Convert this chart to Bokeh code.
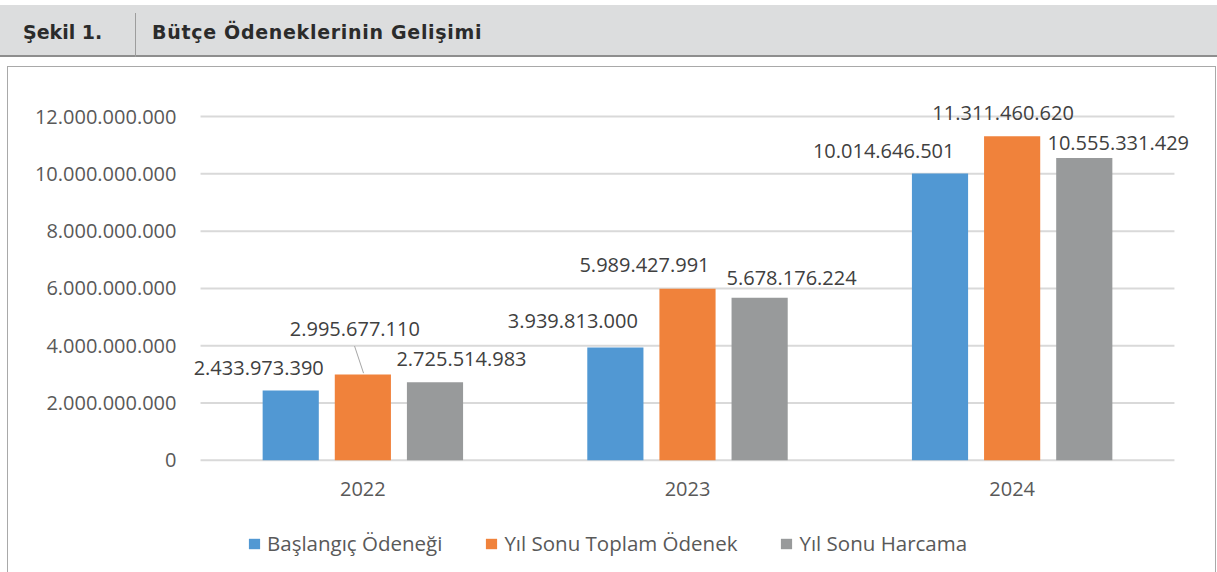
from bokeh.plotting import figure
from bokeh.models import (ColumnDataSource, FactorRange, Range1d, FixedTicker,
                          Legend, LegendItem, Div, LabelSet)
from bokeh.layouts import column
from bokeh.transform import dodge
from bokeh.core.properties import value
from bokeh.embed import file_html
from bokeh.resources import INLINE

# ---------------- data ----------------
years = ["2022", "2023", "2024"]
baslangic_odenegi = [2433973390, 3939813000, 10014646501]
yil_sonu_toplam_odenek = [2995677110, 5989427991, 11311460620]
yil_sonu_harcama = [2725514983, 5678176224, 10555331429]
series_names = ["Başlangıç Ödeneği", "Yıl Sonu Toplam Ödenek", "Yıl Sonu Harcama"]
y_ticks = [0, 2000000000, 4000000000, 6000000000, 8000000000, 10000000000, 12000000000]
y_tick_labels = ["0", "2.000.000.000", "4.000.000.000", "6.000.000.000",
                 "8.000.000.000", "10.000.000.000", "12.000.000.000"]
header_label = "Şekil 1."
header_title = "Bütçe Ödeneklerinin Gelişimi"

# ---------------- style / layout ----------------
colors = ["#5198d3", "#f0823b", "#989a9b"]
bar_offsets = [-0.2222, 0.0, 0.2222]
bar_width = 0.173
# data-label offsets in screen px (dx right, dy down) relative to each bar's top-centre
label_dx = [[-32, -42.5, -56.3], [-8, -43, -9], [26.5, 32, 34]]
label_dy = [[-23, -26.3, -22.3], [-45, -23.7, -23.4], [-23.4, -19.4, -15]]

CAT_PX = 324.0            # pixels per category
SIDE_PAD_PX = 20.0        # frame extends this far beyond the outer categories
PX_ABOVE_ZERO = 390.0     # frame pixels above the zero line
PX_BELOW_ZERO = 113.0     # frame pixels below the zero line (axis labels + legend)
PX_PER_12BN = 343.0
Y_PER_PX = 12000000000 / PX_PER_12BN
FRAME_W = int(3 * CAT_PX + 2 * SIDE_PAD_PX)
FRAME_H = int(PX_ABOVE_ZERO + PX_BELOW_ZERO)


def fmt(v):
    return f"{v:,}".replace(",", ".")


series = [baslangic_odenegi, yil_sonu_toplam_odenek, yil_sonu_harcama]

p = figure(
    x_range=FactorRange(factors=years, range_padding=2 * SIDE_PAD_PX / (3 * CAT_PX),
                        range_padding_units="percent"),
    y_range=Range1d(-PX_BELOW_ZERO * Y_PER_PX, PX_ABOVE_ZERO * Y_PER_PX),
    frame_width=FRAME_W, frame_height=FRAME_H,
    min_border_left=172, min_border_right=23, min_border_top=2, min_border_bottom=0,
    output_backend="svg", toolbar_location=None,
    background_fill_color="white", border_fill_color="white",
)
p.outline_line_color = None
p.margin = (0, 0, 0, 7)
p.styles = {"border-left": "1px solid #a9a9a9", "border-top": "1px solid #a9a9a9",
            "border-right": "1px solid #a9a9a9"}

# horizontal grid lines spanning the category area only
grid_src = ColumnDataSource(dict(y=y_ticks, first=[years[0]] * len(y_ticks),
                                 last=[years[-1]] * len(y_ticks)))
p.segment(x0=dodge("first", -0.5, range=p.x_range), y0="y",
          x1=dodge("last", 0.5, range=p.x_range), y1="y",
          source=grid_src, line_color="#d9d9d9", line_width=2)

items = []
for i, (name, vals) in enumerate(zip(series_names, series)):
    src = ColumnDataSource(dict(
        year=years, val=vals, txt=[fmt(v) for v in vals],
        dx=label_dx[i], dy=[-d for d in label_dy[i]],
    ))
    r = p.vbar(x=dodge("year", bar_offsets[i], range=p.x_range), top="val",
               width=bar_width, source=src, fill_color=colors[i], line_color=None)
    items.append(LegendItem(label=name, renderers=[r]))
    labels = LabelSet(x=dodge("year", bar_offsets[i], range=p.x_range), y="val", text="txt",
                      x_offset="dx", y_offset="dy", source=src,
                      text_font=value("Open Sans"), text_font_size="20px", text_color="#404040",
                      text_align="center", text_baseline="middle")
    p.add_layout(labels)

# leader line for the 2022 "Yıl Sonu Toplam Ödenek" label
lead_src = ColumnDataSource(dict(year=[years[0]], y0=[yil_sonu_toplam_odenek[0] + 28.4 * Y_PER_PX],
                                 y1=[yil_sonu_toplam_odenek[0] + 1.3 * Y_PER_PX]))
p.segment(x0=dodge("year", bar_offsets[1] - 8.3 / CAT_PX, range=p.x_range), y0="y0",
          x1=dodge("year", bar_offsets[1] + 0.7 / CAT_PX, range=p.x_range), y1="y1",
          source=lead_src, line_color="#a6a6a6", line_width=1)

# axes
p.yaxis.ticker = FixedTicker(ticks=y_ticks)
p.yaxis.major_label_overrides = {t: l for t, l in zip(y_ticks, y_tick_labels)}
p.yaxis.axis_line_color = None
p.yaxis.major_tick_line_color = None
p.yaxis.minor_tick_line_color = None
p.yaxis.major_tick_out = 0
p.yaxis.major_label_standoff = 4
p.yaxis.major_label_text_font = "Open Sans"
p.yaxis.major_label_text_font_size = "20px"
p.yaxis.major_label_text_color = "#595959"

p.xaxis.fixed_location = 0
p.xaxis.axis_line_color = None
p.xaxis.major_tick_line_color = None
p.xaxis.major_tick_out = 0
p.xaxis.major_tick_in = 0
p.xaxis.major_label_standoff = 22
p.xaxis.major_label_text_font = "Open Sans"
p.xaxis.major_label_text_font_size = "20px"
p.xaxis.major_label_text_color = "#595959"

p.xgrid.grid_line_color = None
p.ygrid.grid_line_color = None

legend = Legend(items=items, orientation="horizontal", location=(67, 16),
                label_text_font="Open Sans", label_text_font_size="20.5px",
                label_text_color="#595959", glyph_width=14, glyph_height=13,
                label_standoff=6, spacing=42, border_line_color=None,
                background_fill_alpha=0, padding=0, margin=0)
p.add_layout(legend)

header_html = f"""
<div style="position:relative;width:1217px;height:66px;background:#ffffff;">
  <div style="position:absolute;left:0;top:5px;width:1217px;height:52px;background:#dcddde;border-bottom:2px solid #8e8e8e;"></div>
  <div style="position:absolute;left:135px;top:13px;width:1px;height:44px;background:#9d9d9d;"></div>
  <div style="position:absolute;left:23px;top:23px;font-family:'DejaVu Sans';font-weight:bold;font-size:19px;line-height:19px;color:#2b2b2b;white-space:nowrap;">{header_label}</div>
  <div style="position:absolute;left:152px;top:23px;font-family:'DejaVu Sans';font-weight:bold;font-size:19px;line-height:19px;letter-spacing:0.7px;color:#2b2b2b;white-space:nowrap;">{header_title}</div>
</div>
"""
header = Div(text=header_html, width=1217, height=66, margin=0)

layout = column(header, p, spacing=0)
layout.margin = 0

open("out.html", "w").write(file_html(layout, INLINE))
